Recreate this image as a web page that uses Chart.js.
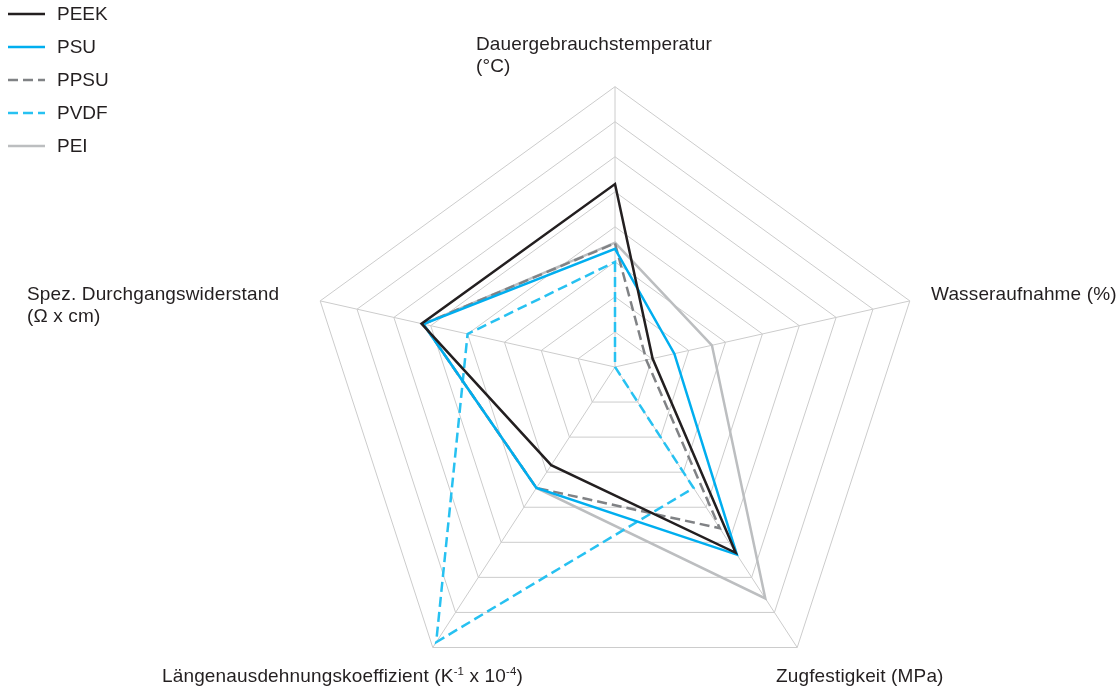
<!DOCTYPE html>
<html lang="de">
<head>
<meta charset="utf-8">
<title>Hochleistungskunststoffe im Vergleich</title>
<script src="https://cdn.jsdelivr.net/npm/chart.js@4.4.1/dist/chart.umd.min.js"></script>
<style>
  html, body { margin: 0; padding: 0; background: #fff; }
  #wrap {
    position: relative;
    width: 1119px;
    height: 693px;
    font: 19px/22px "Liberation Sans", Arial, Helvetica, sans-serif;
    letter-spacing: 0.15px;
    color: #231f20;
  }
  #wrap canvas { position: absolute; left: 0; top: 0; }
  .lbl { position: absolute; white-space: nowrap; }
  .lbl sup { font-size: 0.6em; line-height: 0; vertical-align: 0.62em; }
  .leg { position: absolute; left: 0; height: 22px; white-space: nowrap; }
  .leg svg { position: absolute; left: 8px; top: 0; }
  .leg span { position: absolute; left: 57px; top: 0; letter-spacing: 0; }
</style>
</head>
<body>
<div id="wrap">
  <canvas id="chartRadar"></canvas>
  <div id="legend"></div>
  <div class="lbl" style="left:476px;top:33px">Dauergebrauchstemperatur<br>(°C)</div>
  <div class="lbl" style="left:931px;top:283px">Wasseraufnahme (%)</div>
  <div class="lbl" style="left:776px;top:665px">Zugfestigkeit (MPa)</div>
  <div class="lbl" style="left:162px;top:665px">Längenausdehnungskoeffizient (K<sup>-1</sup> x 10<sup>-4</sup>)</div>
  <div class="lbl" style="left:27px;top:283px">Spez. Durchgangswiderstand<br>(Ω x cm)</div>
</div>
<script>
// Achsen (im Uhrzeigersinn, oben beginnend)
const kategorien = [
  "Dauergebrauchstemperatur",
  "Wasseraufnahme",
  "Zugfestigkeit",
  "Längenausdehnungskoeffizient",
  "Spez. Durchgangswiderstand",
];

// Bewertung je Achse auf der 8-stufigen Skala
const peek = [5.22, 1.02, 5.3, 2.8, 5.25];
const psu = [3.37, 1.61, 5.35, 3.45, 5.2];
const ppsu = [3.53, 0.85, 4.6, 3.45, 5.2];
const pvdf = [3.0, 0, 3.45, 7.85, 4.0];
const pei = [3.55, 2.63, 6.6, 3.45, 5.2];

const skalaMax = 8;
const skalaSchritt = 1;

// Mittelpunkt der Ringe sitzt etwas oberhalb der Fünfeckmitte:
// jeder Ring wird proportional zu seinem Radius nach unten verschoben
const RING_VERSATZ = 0.0958;

class VersetzteRadialSkala extends Chart.RadialLinearScale {
  getPointPosition(index, distanceFromCenter, additionalAngle = 0) {
    const p = super.getPointPosition(index, distanceFromCenter, additionalAngle);
    p.y += distanceFromCenter * RING_VERSATZ;
    return p;
  }
}
VersetzteRadialSkala.id = "versetztRadial";
VersetzteRadialSkala.defaults = Chart.RadialLinearScale.defaults;
Chart.register(VersetzteRadialSkala);

const gitter = "#cccccc";

const serien = [
  { label: "PEEK", data: peek, farbe: "#231f20", dash: [] },
  { label: "PSU", data: psu, farbe: "#00aeef", dash: [] },
  { label: "PPSU", data: ppsu, farbe: "#808285", dash: [10, 5] },
  { label: "PVDF", data: pvdf, farbe: "#27c1f1", dash: [10, 5] },
  { label: "PEI", data: pei, farbe: "#bcbec0", dash: [] },
];

new Chart(document.getElementById("chartRadar"), {
  type: "radar",
  data: {
    labels: kategorien,
    datasets: serien.map((s) => ({
      label: s.label,
      data: s.data,
      borderColor: s.farbe,
      borderDash: s.dash,
      borderWidth: 2.5,
      backgroundColor: "transparent",
      fill: false,
      pointRadius: 0,
      pointHoverRadius: 0,
      tension: 0,
    })),
  },
  options: {
    responsive: true,
    maintainAspectRatio: false,
    animation: false,
    events: [],
    layout: { padding: { top: 57, bottom: 16, left: 115, right: 4 } },
    plugins: {
      legend: { display: false },
      tooltip: { enabled: false },
    },
    scales: {
      r: {
        type: "versetztRadial",
        min: 0,
        max: skalaMax,
        ticks: { display: false, stepSize: skalaSchritt },
        pointLabels: { display: false },
        grid: { color: gitter, lineWidth: 1 },
        angleLines: { color: gitter, lineWidth: 1 },
      },
    },
  },
});

// Legende links oben
const legende = document.getElementById("legend");
serien.forEach((s, i) => {
  const zeile = document.createElement("div");
  zeile.className = "leg";
  zeile.style.top = 14 + i * 33 - 11 + "px";
  zeile.innerHTML =
    `<svg width="37" height="22"><line x1="0" y1="11" x2="37" y2="11" stroke="${s.farbe}" ` +
    `stroke-width="2.5" stroke-dasharray="${s.dash.join(",") || "none"}"/></svg>` +
    `<span>${s.label}</span>`;
  legende.appendChild(zeile);
});
</script>
</body>
</html>
